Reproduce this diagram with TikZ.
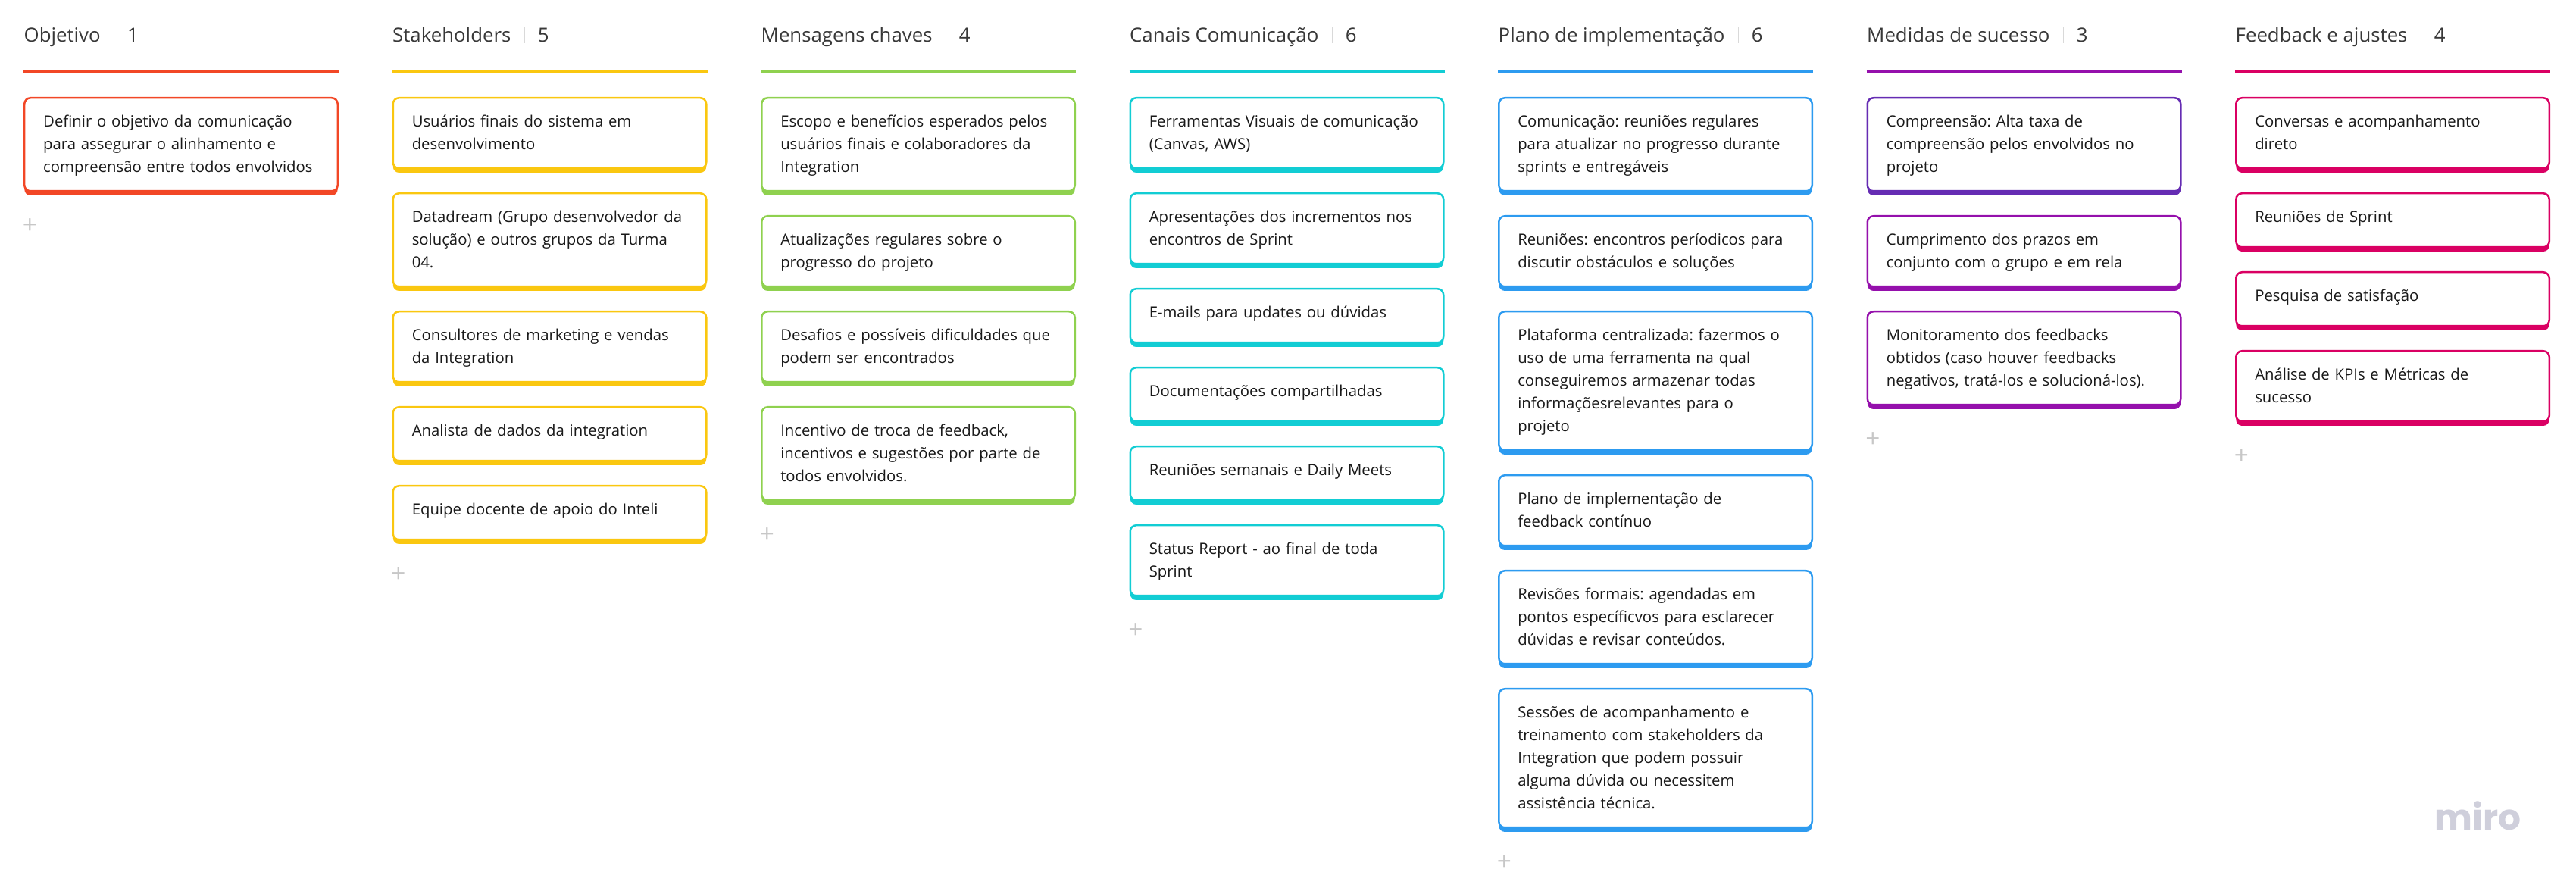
\documentclass[tikz,border=0pt]{standalone}
\usepackage{fontspec}
\setmainfont{Open Sans}
\newfontfamily\logofont{Poppins}
\usetikzlibrary{positioning,shadows}
\definecolor{colobj}{HTML}{F24726}
\definecolor{colsta}{HTML}{FAC710}
\definecolor{colmsg}{HTML}{8FD14F}
\definecolor{colcan}{HTML}{12CDD4}
\definecolor{colpla}{HTML}{2D9BF0}
\definecolor{coldark}{HTML}{652CB3}
\definecolor{colmed}{HTML}{9510AC}
\definecolor{colfee}{HTML}{DA0063}
\definecolor{collogo}{HTML}{CFCFDB}
\tikzset{
  card/.style={draw=#1,fill=white,line width=.025cm,rounded corners=.08cm,anchor=north west,
    inner xsep=.25cm,inner ysep=0pt,text width=3.635cm,align=left,text height=.3875cm,
    text=black!90,font=\frenchspacing\fontsize{5.78}{8.535}\selectfont,
    drop shadow={shadow xshift=0pt,shadow yshift=-.0575cm,opacity=1,fill=#1}},
  oneline/.style={text depth=.3225cm},
  twolines/.style={text depth=.5425cm},
  threelines/.style={text depth=.8425cm},
  fivelines/.style={text depth=1.4425cm},
  coltitle/.style={anchor=base west,inner sep=0pt,text=black!78,font=\fontsize{7.34}{9}\selectfont},
  colcount/.style={coltitle,anchor=base west},
  barsep/.style={line width=.012cm,black!15},
  headrule/.style={line width=.03cm},
  addplus/.style={inner sep=0pt,text=black!22,font=\fontsize{9.5}{9.5}\selectfont},
}
\begin{document}
\begin{tikzpicture}
\useasboundingbox (0,0) rectangle (34,-11.76);
% titulos
\node[coltitle](T1) at (.31,-.56) {Objetivo};
\node[coltitle](T2) at (5.175,-.56) {Stakeholders};
\node[coltitle](T3) at (10.04,-.56) {Mensagens chaves};
\node[coltitle](T4) at (14.905,-.56) {Canais Comunicação};
\node[coltitle](T5) at (19.77,-.56) {Plano de implementação};
\node[coltitle](T6) at (24.635,-.56) {Medidas de sucesso};
\node[coltitle](T7) at (29.5,-.56) {Feedback e ajustes};
\node[colcount,right=.34cm of T1.base east,anchor=base west](N1) {1};
\node[colcount,right=.34cm of T2.base east,anchor=base west](N2) {5};
\node[colcount,right=.34cm of T3.base east,anchor=base west](N3) {4};
\node[colcount,right=.34cm of T4.base east,anchor=base west](N4) {6};
\node[colcount,right=.34cm of T5.base east,anchor=base west](N5) {6};
\node[colcount,right=.34cm of T6.base east,anchor=base west](N6) {3};
\node[colcount,right=.34cm of T7.base east,anchor=base west](N7) {4};
\draw[barsep]([xshift=.17cm,yshift=-.01cm]T1.base east)--([xshift=.17cm,yshift=.2cm]T1.base east);
\draw[barsep]([xshift=.17cm,yshift=-.01cm]T2.base east)--([xshift=.17cm,yshift=.2cm]T2.base east);
\draw[barsep]([xshift=.17cm,yshift=-.01cm]T3.base east)--([xshift=.17cm,yshift=.2cm]T3.base east);
\draw[barsep]([xshift=.17cm,yshift=-.01cm]T4.base east)--([xshift=.17cm,yshift=.2cm]T4.base east);
\draw[barsep]([xshift=.17cm,yshift=-.01cm]T5.base east)--([xshift=.17cm,yshift=.2cm]T5.base east);
\draw[barsep]([xshift=.17cm,yshift=-.01cm]T6.base east)--([xshift=.17cm,yshift=.2cm]T6.base east);
\draw[barsep]([xshift=.17cm,yshift=-.01cm]T7.base east)--([xshift=.17cm,yshift=.2cm]T7.base east);
% linhas
\coordinate(R1a) at (.31,-.95);
\coordinate(R1b) at (4.47,-.95);
\coordinate(R2a) at (5.175,-.95);
\coordinate(R2b) at (9.335,-.95);
\coordinate(R3a) at (10.04,-.95);
\coordinate(R3b) at (14.2,-.95);
\coordinate(R4a) at (14.905,-.95);
\coordinate(R4b) at (19.065,-.95);
\coordinate(R5a) at (19.77,-.95);
\coordinate(R5b) at (23.93,-.95);
\coordinate(R6a) at (24.635,-.95);
\coordinate(R6b) at (28.795,-.95);
\coordinate(R7a) at (29.5,-.95);
\coordinate(R7b) at (33.66,-.95);
\draw[headrule,colobj](R1a)--(R1b);
\draw[headrule,colsta](R2a)--(R2b);
\draw[headrule,colmsg](R3a)--(R3b);
\draw[headrule,colcan](R4a)--(R4b);
\draw[headrule,colpla](R5a)--(R5b);
\draw[headrule,colmed](R6a)--(R6b);
\draw[headrule,colfee](R7a)--(R7b);
% objetivo
\node[card=colobj,threelines](O1) at (.31,-1.28) {Definir o objetivo da comunicação\\para assegurar o alinhamento e\\compreensão entre todos envolvidos};
% stakeholders
\node[card=colsta,twolines](S1) at (5.175,-1.28) {Usuários finais do sistema em\\desenvolvimento};
\node[card=colsta,threelines](S2) at (5.175,-2.54) {Datadream (Grupo desenvolvedor da\\solução) e outros grupos da Turma\\04.};
\node[card=colsta,twolines](S3) at (5.175,-4.10) {Consultores de marketing e vendas\\da Integration};
\node[card=colsta,oneline](S4) at (5.175,-5.36) {Analista de dados da integration};
\node[card=colsta,oneline](S5) at (5.175,-6.40) {Equipe docente de apoio do Inteli};
% mensagens
\node[card=colmsg,threelines](M1) at (10.04,-1.28) {Escopo e benefícios esperados pelos\\usuários finais e colaboradores da\\Integration};
\node[card=colmsg,twolines](M2) at (10.04,-2.84) {Atualizações regulares sobre o\\progresso do projeto};
\node[card=colmsg,twolines](M3) at (10.04,-4.10) {Desafios e possíveis dificuldades que\\podem ser encontrados};
\node[card=colmsg,threelines](M4) at (10.04,-5.36) {Incentivo de troca de feedback,\\incentivos e sugestões por parte de\\todos envolvidos.};
% canais
\node[card=colcan,twolines](C1) at (14.905,-1.28) {Ferramentas Visuais de comunicação\\(Canvas, AWS)};
\node[card=colcan,twolines](C2) at (14.905,-2.54) {Apresentações dos incrementos nos\\encontros de Sprint};
\node[card=colcan,oneline](C3) at (14.905,-3.80) {E-mails para updates ou dúvidas};
\node[card=colcan,oneline](C4) at (14.905,-4.84) {Documentações compartilhadas};
\node[card=colcan,oneline](C5) at (14.905,-5.88) {Reuniões semanais e Daily Meets};
\node[card=colcan,twolines](C6) at (14.905,-6.92) {Status Report - ao final de toda\\Sprint};
% plano
\node[card=colpla,threelines](P1) at (19.77,-1.28) {Comunicação: reuniões regulares\\para atualizar no progresso durante\\sprints e entregáveis};
\node[card=colpla,twolines](P2) at (19.77,-2.84) {Reuniões: encontros períodicos para\\discutir obstáculos e soluções};
\node[card=colpla,fivelines](P3) at (19.77,-4.10) {Plataforma centralizada: fazermos o\\uso de uma ferramenta na qual\\conseguiremos armazenar todas\\informaçõesrelevantes para o\\projeto};
\node[card=colpla,twolines](P4) at (19.77,-6.26) {Plano de implementação de\\feedback contínuo};
\node[card=colpla,threelines](P5) at (19.77,-7.52) {Revisões formais: agendadas em\\pontos específicvos para esclarecer\\dúvidas e revisar conteúdos.};
\node[card=colpla,fivelines](P6) at (19.77,-9.08) {Sessões de acompanhamento e\\treinamento com stakeholders da\\Integration que podem possuir\\alguma dúvida ou necessitem\\assistência técnica.};
% medidas
\node[card=coldark,threelines](D1) at (24.635,-1.28) {Compreensão: Alta taxa de\\compreensão pelos envolvidos no\\projeto};
\node[card=colmed,twolines](D2) at (24.635,-2.84) {Cumprimento dos prazos em\\conjunto com o grupo e em rela};
\node[card=colmed,threelines](D3) at (24.635,-4.10) {Monitoramento dos feedbacks\\obtidos (caso houver feedbacks\\negativos, tratá-los e solucioná-los).};
% feedback
\node[card=colfee,twolines](F1) at (29.5,-1.28) {Conversas e acompanhamento\\direto};
\node[card=colfee,oneline](F2) at (29.5,-2.54) {Reuniões de Sprint};
\node[card=colfee,oneline](F3) at (29.5,-3.58) {Pesquisa de satisfação};
\node[card=colfee,twolines](F4) at (29.5,-4.62) {Análise de KPIs e Métricas de\\sucesso};
% mais
\node[addplus](A1) at (.395,-2.985) {+};
\node[addplus](A2) at (5.26,-7.585) {+};
\node[addplus](A3) at (10.125,-7.065) {+};
\node[addplus](A4) at (14.99,-8.325) {+};
\node[addplus](A5) at (19.855,-11.385) {+};
\node[addplus](A6) at (24.72,-5.805) {+};
\node[addplus](A7) at (29.585,-6.025) {+};
% logo
\node[anchor=base west,inner sep=0pt,text=collogo,font=\logofont\bfseries\fontsize{13.4}{14}\selectfont](L1) at (32.13,-10.96) {miro};
\end{tikzpicture}
\end{document}
